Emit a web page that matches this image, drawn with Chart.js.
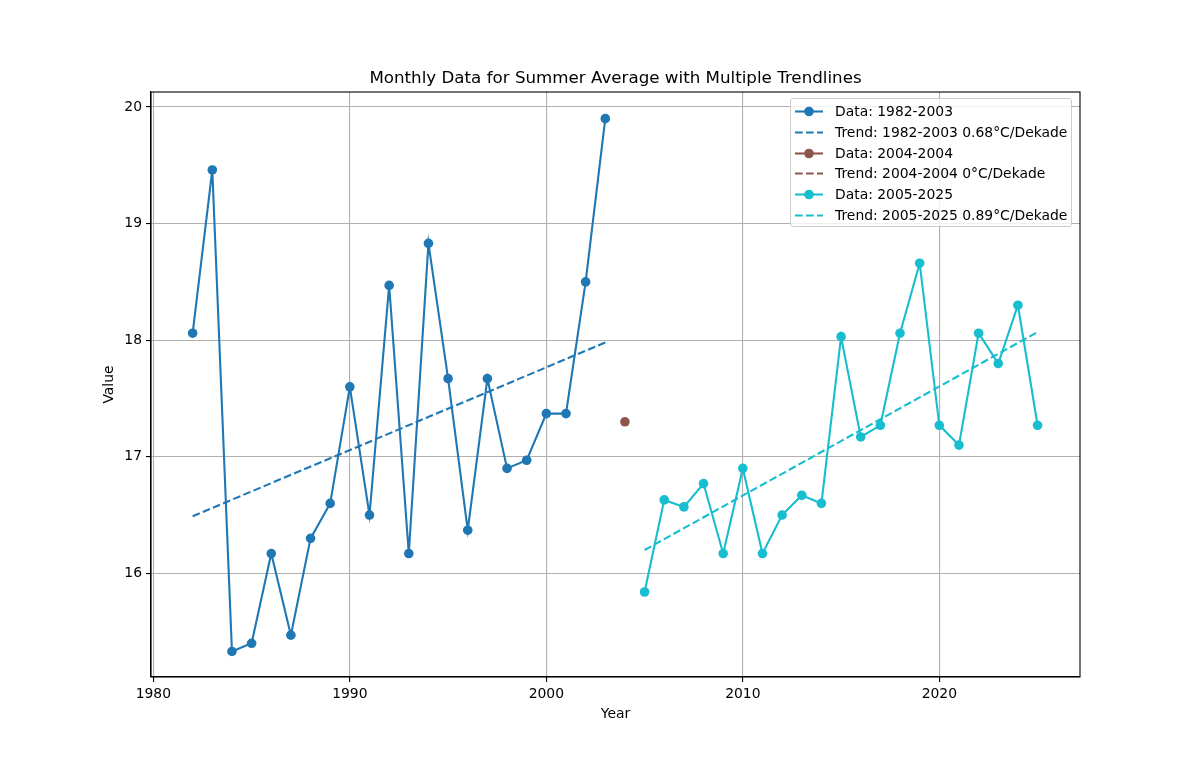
<!DOCTYPE html>
<html>
<head>
<meta charset="utf-8">
<script src="https://cdn.jsdelivr.net/npm/chart.js@4/dist/chart.umd.min.js"></script>
<style>
  body { margin: 0; background: #fff; }
  #wrap { position: relative; width: 1200px; height: 761px; }
  #legend {
    position: absolute; left: 790px; top: 98px; width: 282px; height: 129px;
    box-sizing: border-box; border: 1px solid #cccccc; border-radius: 3px;
    background: rgba(255, 255, 255, 0.8);
    font-family: "DejaVu Sans", sans-serif; font-size: 13.9px; color: #000;
  }
  .row { position: absolute; left: 0; height: 21px; line-height: 21px; white-space: nowrap; }
  .row svg { position: absolute; left: 4px; top: 0; }
  .row span { position: absolute; left: 44px; }
</style>
</head>
<body>
<div id="wrap">
  <canvas id="chart"></canvas>
  <div id="legend"></div>
</div>
<script>
const years1 = [1982, 1983, 1984, 1985, 1986, 1987, 1988, 1989, 1990, 1991, 1992,
  1993, 1994, 1995, 1996, 1997, 1998, 1999, 2000, 2001, 2002, 2003];
const values1 = [18.06, 19.46, 15.33, 15.40, 16.17, 15.47, 16.30, 16.60, 17.60, 16.50, 18.47,
  16.17, 18.83, 17.67, 16.37, 17.67, 16.90, 16.97, 17.37, 17.37, 18.50, 19.90];
const trendYears1 = [1982, 2003];
const trendValues1 = [16.49, 17.98];

const years2 = [2004];
const values2 = [17.30];
const trendYears2 = [2004];
const trendValues2 = [17.30];

const years3 = [2005, 2006, 2007, 2008, 2009, 2010, 2011, 2012, 2013, 2014, 2015,
  2016, 2017, 2018, 2019, 2020, 2021, 2022, 2023, 2024, 2025];
const values3 = [15.84, 16.63, 16.57, 16.77, 16.17, 16.90, 16.17, 16.50, 16.67, 16.60, 18.03,
  17.17, 17.27, 18.06, 18.66, 17.27, 17.10, 18.06, 17.80, 18.30, 17.27];
const trendYears3 = [2005, 2025];
const trendValues3 = [16.20, 18.07];

const xTicks = [1980, 1990, 2000, 2010, 2020];
const yTicks = [16, 17, 18, 19, 20];

const titleText = "Monthly Data for Summer Average with Multiple Trendlines";

const blue = "#1f77b4", brown = "#8c564b", cyan = "#17becf";

function pts(xs, ys) {
  return xs.map((x, i) => ({ x: x, y: ys[i] }));
}

function dataSet(label, xs, ys, color) {
  return {
    label: label, data: pts(xs, ys), borderColor: color, backgroundColor: color,
    borderWidth: 2.1, pointRadius: 4.8, pointBorderWidth: 0, pointHoverRadius: 4.8,
    tension: 0, dashed: false,
  };
}

function trendSet(label, xs, ys, color) {
  return {
    label: label, data: pts(xs, ys), borderColor: color, backgroundColor: color,
    borderWidth: 2.1, borderDash: [7.7, 3.3], pointRadius: 0, tension: 0, dashed: true,
  };
}

const datasets = [
  dataSet("Data: 1982-2003", years1, values1, blue),
  trendSet("Trend: 1982-2003 0.68°C/Dekade", trendYears1, trendValues1, blue),
  dataSet("Data: 2004-2004", years2, values2, brown),
  trendSet("Trend: 2004-2004 0°C/Dekade", trendYears2, trendValues2, brown),
  dataSet("Data: 2005-2025", years3, values3, cyan),
  trendSet("Trend: 2005-2025 0.89°C/Dekade", trendYears3, trendValues3, cyan),
];
datasets.forEach((d, i) => (d.order = datasets.length - i));

// top/right spines and a title centred over the plot area, like matplotlib
const frame = {
  id: "frame",
  afterDatasetsDraw(chart) {
    const a = chart.chartArea;
    const ctx = chart.ctx;
    ctx.save();
    ctx.strokeStyle = "#000";
    ctx.lineWidth = 1.1;
    ctx.strokeRect(a.left, a.top, a.right - a.left, a.bottom - a.top);
    ctx.fillStyle = "#000";
    ctx.font = '16.7px "DejaVu Sans"';
    ctx.textAlign = "center";
    ctx.textBaseline = "alphabetic";
    ctx.fillText(titleText, (a.left + a.right) / 2, a.top - 9);
    ctx.restore();
  },
};

const font = { family: "DejaVu Sans", size: 13.9 };

new Chart(document.getElementById("chart"), {
  type: "line",
  data: { datasets: datasets },
  plugins: [frame],
  options: {
    responsive: true,
    maintainAspectRatio: false,
    animation: false,
    layout: { padding: { left: 0, right: 120, top: 92, bottom: 0 } },
    plugins: {
      legend: { display: false },
      tooltip: { enabled: false },
      title: { display: false },
    },
    scales: {
      x: {
        type: "linear",
        min: 1979.88,
        max: 2027.16,
        afterBuildTicks: (s) => (s.ticks = xTicks.map((v) => ({ value: v }))),
        afterFit: (s) => (s.height = 84),
        ticks: { color: "#000", font: font, padding: 4, maxRotation: 0,
          callback: (v) => String(v) },
        grid: { color: "#b0b0b0", lineWidth: 1.1, tickLength: 5, tickColor: "#000" },
        border: { color: "#000", width: 1.1 },
        title: { display: true, text: "Year", color: "#000", font: font,
          padding: { top: 0, bottom: 38 } },
      },
      y: {
        type: "linear",
        min: 15.111,
        max: 20.1286,
        afterBuildTicks: (s) => (s.ticks = yTicks.map((v) => ({ value: v }))),
        afterFit: (s) => (s.width = 151),
        ticks: { color: "#000", font: font, padding: 4, callback: (v) => String(v) },
        grid: { color: "#b0b0b0", lineWidth: 1.1, tickLength: 5, tickColor: "#000" },
        border: { color: "#000", width: 1.1 },
        title: { display: true, text: "Value", color: "#000", font: font,
          padding: { top: 101, bottom: 0 } },
      },
    },
  },
});

// legend inside the plot, matplotlib style
const legend = document.getElementById("legend");
datasets.forEach((d, i) => {
  const row = document.createElement("div");
  row.className = "row";
  row.style.top = (2 + i * 20.8) + "px";
  const dash = d.dashed ? ' stroke-dasharray="7.7 3.3"' : "";
  const dot = d.dashed ? "" : `<circle cx="14" cy="10.5" r="4.8" fill="${d.borderColor}"/>`;
  row.innerHTML =
    `<svg width="30" height="21"><line x1="0" y1="10.5" x2="28" y2="10.5" stroke="${d.borderColor}" stroke-width="2.1"${dash}/>${dot}</svg>` +
    `<span>${d.label}</span>`;
  legend.appendChild(row);
});
</script>
</body>
</html>
